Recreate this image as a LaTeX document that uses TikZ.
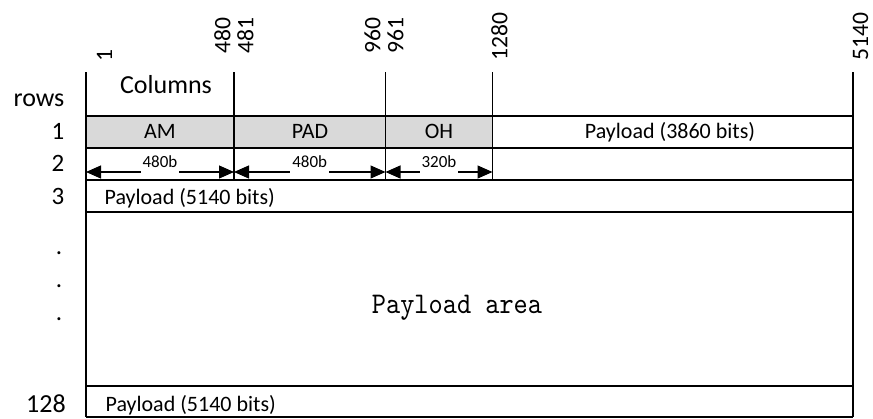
\documentclass[tikz,border=0pt]{standalone}
\usepackage{fontspec}
\setmainfont{Carlito}
\newfontfamily\areafont[FakeStretch=0.9]{lmmono10-regular.otf}
\usetikzlibrary{arrows.meta}

\begin{document}
\begin{tikzpicture}[x=0.5pt, y=-0.5pt, line width=0.6pt,
    cellfill/.style={fill=black!15},
    celltext/.style={font=\fontsize{11}{13}\selectfont, anchor=base, inner sep=0pt},
    rownum/.style={font=\fontsize{12.5}{14}\selectfont, anchor=base, inner sep=0pt},
    biglabel/.style={font=\fontsize{13}{15}\selectfont, anchor=base, inner sep=0pt},
    colnum/.style={font=\fontsize{11.8}{13}\selectfont, rotate=90, anchor=west, inner sep=0pt},
    bitwidth/.style={font=\fontsize{8.5}{10}\selectfont, fill=white, inner xsep=1pt, inner ysep=2.5pt, anchor=south, yshift=-0.75pt},
    dimarrow/.style={{Triangle[length=7.5pt,width=6.5pt]}-{Triangle[length=7.5pt,width=6.5pt]}}]
  \useasboundingbox (0,0) rectangle (873,418);

  % column borders and row borders
  \foreach \name/\x in {c0/86, c1/234, c2/385.5, c3/492.5, c4/853}
    \coordinate (\name) at (\x,72);
  \foreach \name/\y in {r0/116, r1/148, r2/180, r3/212, r4/386, r5/417}
    \coordinate (\name) at (0,\y);

  % header row (AM, PAD, OH)
  \fill[cellfill] (c0 |- r0) rectangle (c3 |- r1);
  \foreach \r in {r0,r1,r2,r3,r4,r5}
    \draw (c0 |- \r) -- (c4 |- \r);
  \draw (c0) -- (c0 |- r5);
  \draw (c4) -- (c4 |- r5);
  \foreach \c in {c1,c2,c3}
    \draw (\c) -- (\c |- r2);

  % column numbers
  \foreach \x/\y/\t in {104.5/62/1, 222.5/54/480, 245.5/54/481, 372.5/54/960,
                        395.5/54/961, 499.5/61/1280, 860.5/61/5140}
    \node[colnum] (col\t) at (\x,\y) {\t};

  % row numbers
  \node[biglabel] (rows) at (39,106) {rows};
  \node[biglabel] (columns) at (166,93) {Columns};
  \foreach \i/\y in {1/139.5, 2/171.5, 3/204}
    \node[rownum] (row\i) at (58,\y) {\i};
  \foreach \i/\y in {1/254, 2/287, 3/320}
    \node[rownum] (dot\i) at (59,\y) {.};
  \node[biglabel] (row128) at (46,412) {128};

  % cell texts
  \node[celltext] (am) at (160,138) {AM};
  \node[celltext] (pad) at (310,138) {PAD};
  \node[celltext] (oh) at (439,138) {OH};
  \node[celltext] (pay1) at (670,138) {Payload (3860 bits)};
  \node[celltext, anchor=base west] (pay3) at (104,204) {Payload (5140 bits)};
  \node[celltext, anchor=base west] (pay128) at (105,411) {Payload (5140 bits)};
  \node[font=\areafont\fontsize{15}{17}\selectfont, anchor=base, inner sep=0pt] (area) at (457,313) {Payload area};

  % field widths
  \foreach \name/\x in {d0/86, d1/234, d2/385.5, d3/492.5}
    \coordinate (\name) at (\x,172);
  \draw[dimarrow] (d0) -- node[bitwidth] (w1) {480b} (d1);
  \draw[dimarrow] (d1) -- node[bitwidth] (w2) {480b} (d2);
  \draw[dimarrow] (d2) -- node[bitwidth] (w3) {320b} (d3);
\end{tikzpicture}
\end{document}
